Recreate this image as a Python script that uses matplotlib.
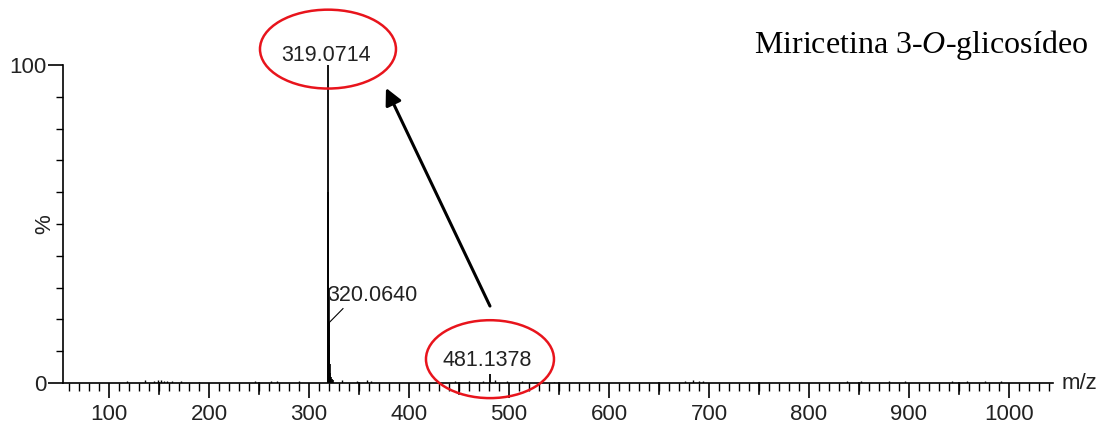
import numpy as np
import matplotlib.pyplot as plt
from matplotlib.patches import Ellipse

plt.rcParams['font.family'] = ['Liberation Sans', 'DejaVu Sans']
plt.rcParams['mathtext.fontset'] = 'custom'
plt.rcParams['mathtext.rm'] = 'Liberation Serif'
plt.rcParams['mathtext.it'] = 'Liberation Serif:italic'

# picos principais (m/z, intensidade relativa %)
main_mz = [319.0714, 320.0640, 481.1378]
main_int = [100.0, 18.9, 2.8]

# cluster ao redor de 320 e ruido de linha de base
cluster_mz = [319.4, 319.8, 320.4, 320.8, 321.3, 322.0, 323.0, 324.5]
cluster_int = [60.0, 30.0, 12.0, 6.0, 3.0, 2.0, 1.2, 0.8]
noise_mz = [118, 136, 145, 149, 152, 155, 158, 163, 172, 190, 246, 262,
            268, 290, 333, 348, 358, 362, 446, 460, 474, 486, 498, 513,
            545, 676, 684, 690, 694, 838, 852, 880, 896, 943, 958, 976,
            992]
noise_int = [0.6, 0.8, 0.6, 0.9, 0.8, 0.7, 0.6, 0.5, 0.5, 0.4, 0.6, 0.5,
             0.6, 0.5, 0.8, 0.6, 0.9, 0.7, 0.5, 0.6, 0.5, 0.8, 0.5, 0.5,
             0.4, 0.7, 0.8, 0.6, 0.7, 0.5, 0.6, 0.5, 0.6, 0.6, 0.5, 0.5,
             0.5]

xlim = (54, 1044)
txt_col = '#222222'

fig = plt.figure(figsize=(11.05, 4.26), dpi=100)
ax = fig.add_axes([0.0570, 0.1009, 0.8959, 0.7465])

ax.vlines(noise_mz, 0, noise_int, color='black', lw=1.0)
ax.vlines(cluster_mz, 0, cluster_int, color='black', lw=1.2)
ax.vlines(main_mz, 0, main_int, color='black', lw=1.3)

ax.set_xlim(*xlim)
ax.set_ylim(0, 100)

for s in ['top', 'right']:
    ax.spines[s].set_visible(False)
for s in ['left', 'bottom']:
    ax.spines[s].set_linewidth(1.2)

ax.set_xticks(np.arange(100, 1001, 100))
ax.set_xticks(np.arange(60, 1041, 10), minor=True)
ax.set_yticks([0, 100])
ax.set_yticks(np.arange(10, 100, 10), minor=True)
ax.tick_params(axis='x', which='major', length=11, width=1.2, pad=4,
               labelsize=16, labelcolor=txt_col)
ax.tick_params(axis='x', which='minor', length=6, width=1.0)
ax.tick_params(axis='y', which='major', length=11, width=1.2, pad=1,
               labelsize=16, labelcolor=txt_col)
ax.tick_params(axis='y', which='minor', length=5, width=1.0)
# ticks intermediarios a cada 50
for m in np.arange(150, 1001, 100):
    ax.plot([m, m], [0, -3.5], color='black', lw=1.2, clip_on=False)

ax.text(-0.018, 0.5, '%', transform=ax.transAxes, rotation=90,
        ha='center', va='center', fontsize=16, color=txt_col)
ax.text(1.009, 0.0, 'm/z', transform=ax.transAxes, ha='left', va='center',
        fontsize=16, color=txt_col)

# rotulos dos picos
ax.text(317, 103, '319.0714', ha='center', va='center', fontsize=15.5,
        color=txt_col, clip_on=False)
ax.text(363, 27.4, '320.0640', ha='center', va='center', fontsize=15.5,
        color=txt_col)
ax.plot([320.2, 334], [19.0, 23.4], color='black', lw=0.8)
ax.text(478, 7.2, '481.1378', ha='center', va='center', fontsize=15.5,
        color=txt_col)

# elipses vermelhas
for cx, cy, w, h in [(319, 105, 136, 24.8), (481, 7.5, 128, 24.5)]:
    ax.add_patch(Ellipse((cx, cy), w, h, fill=False, edgecolor='#e8141c',
                         lw=1.8, clip_on=False, zorder=5))

ax.annotate('', xy=(377, 92.8), xytext=(481, 24.2),
            arrowprops=dict(arrowstyle='-|>,head_length=1.0,head_width=0.5',
                            color='black', lw=2.2, shrinkA=0, shrinkB=0))

fig.text(1088 / 1105, 1 - 53 / 426, r'Miricetina 3-$\it{O}$-glicosídeo',
         ha='right', va='baseline', fontsize=23,
         family=['Liberation Serif', 'DejaVu Serif'])

fig.savefig('out.png', dpi=100)
